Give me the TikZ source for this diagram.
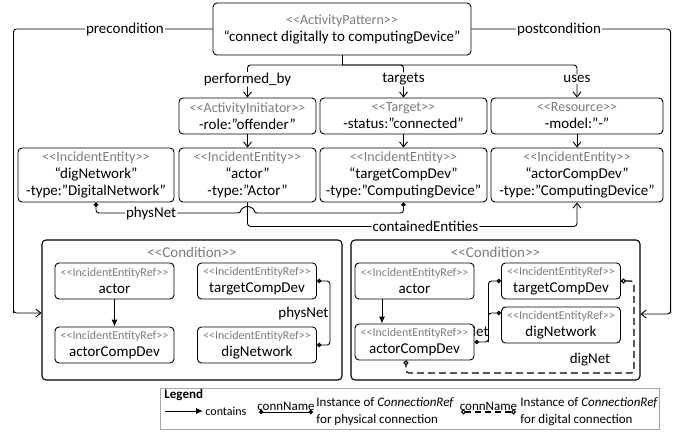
\documentclass[tikz,border=0pt]{standalone}
\usepackage{fontspec}
\setmainfont{Carlito}
\usetikzlibrary{arrows.meta}
\definecolor{stgray}{RGB}{125,125,125}
\newcommand{\stereo}[1]{{\color{stgray}<\kern0pt<#1>\kern0pt>}}
\newcommand{\fs}[1]{\fontsize{#1}{#1}\selectfont}

\begin{document}
\begin{tikzpicture}[x=1pt,y=-1pt,line width=0.9pt,
    box/.style={draw, rounded corners=4pt, fill=white, align=center, inner sep=0pt,
        font=\fontsize{15}{17}\selectfont},
    refbox/.style={box, minimum width=119pt, minimum height=36pt},
    cond/.style={draw, rounded corners=4pt, line width=1.1pt, minimum height=140pt},
    lbl/.style={fill=white, inner sep=1pt, font=\fs{15}},
    rel/.style={-{Straight Barb[length=5pt,width=8pt]}, rounded corners=3pt},
    contain/.style={-{Latex[length=7pt,width=6pt]}},
    phys/.style={{Circle[length=4.5pt]}-{Circle[length=4.5pt]}, rounded corners=3pt},
    dot/.style={-{Circle[length=4.5pt]}, rounded corners=3pt},
    dig/.style={{Circle[open,length=5pt]}-{Circle[open,length=5pt]}, line width=1.1pt,
        dash pattern=on 7pt off 4pt, rounded corners=3pt}]
    \useasboundingbox (0,0) rectangle (686,432);

    % activity pattern and its parts
    \node[box, minimum width=258pt, minimum height=52pt] (pat) at (342,29)
        {{\fs{14}\stereo{ActivityPattern}}\\“connect digitally to computingDevice”};
    \node[box, minimum width=137pt, minimum height=36pt] (ai) at (247.5,116)
        {{\fs{14}\stereo{ActivityInitiator}}\\-role:”offender”};
    \node[box, minimum width=167pt, minimum height=36pt] (tg) at (403.5,116)
        {{\fs{14}\stereo{Target}}\\-status:”connected”};
    \node[box, minimum width=172pt, minimum height=36pt] (rs) at (577,116)
        {{\fs{14}\stereo{Resource}}\\-model:”-”};
    \node[box, minimum width=156pt, minimum height=54pt] (dn) at (96,175)
        {{\fs{14}\stereo{IncidentEntity}}\\“digNetwork”\\-type:”DigitalNetwork”};
    \node[box, minimum width=137pt, minimum height=54pt] (ac) at (247.5,175)
        {{\fs{14}\stereo{IncidentEntity}}\\“actor”\\-type:”Actor”};
    \node[box, minimum width=167pt, minimum height=54pt] (tc) at (403.5,175)
        {{\fs{14}\stereo{IncidentEntity}}\\“targetCompDev”\\-type:”ComputingDevice”};
    \node[box, minimum width=172pt, minimum height=54pt] (acd) at (577,175)
        {{\fs{14}\stereo{IncidentEntity}}\\“actorCompDev”\\-type:”ComputingDevice”};

    \coordinate (br) at (342,65);
    \draw (pat.south) -- (br);
    \draw[rel] (br) -| (ai.north) node[lbl, pos=0.72] (lperf) {performed\_by};
    \draw[rel] (br) -| (tg.north) node[lbl, pos=0.72] (ltarg) {targets};
    \draw[rel] (br) -| (rs.north) node[lbl, pos=0.72] (luses) {uses};
    \draw[rel] (ai) -- (ac);
    \draw[rel] (tg) -- (tc);
    \draw[rel] (rs) -- (acd);

    \draw[rel] (ac.south) -- ++(0,24) -| (acd.south)
        node[lbl, pos=0.27] (lcont) {containedEntities};
    \draw[phys] (dn.south) |- (241,213) node[lbl, pos=0.69] (lpn) {physNet}
        arc[start angle=180, end angle=0, radius=6.5pt] -| (tc.south);

    % conditions
    \node[cond, minimum width=300pt] (lc) at (192,310) {};
    \node[cond, minimum width=289pt] (rc) at (495.5,310) {};
    \node[font=\fs{15}] (lct) at (192,252) {\stereo{Condition}};
    \node[font=\fs{15}] (rct) at (495.5,252) {\stereo{Condition}};

    \draw[rel] (pat.west) -| ([xshift=-28pt]lc.west)
        node[lbl, pos=0.22] (lpre) {precondition} |- ([yshift=-3pt]lc.west);
    \draw[rel] (pat.east) -| ([xshift=30pt]rc.east)
        node[lbl, pos=0.22] (lpost) {postcondition} |- ([yshift=-4pt]rc.east);

    % left condition
    \node[refbox] (la) at (114.5,281) {{\fs{12}\stereo{IncidentEntityRef}}\\actor};
    \node[refbox] (lacd) at (114.5,345) {{\fs{12}\stereo{IncidentEntityRef}}\\actorCompDev};
    \node[refbox] (lt) at (257,281) {{\fs{12}\stereo{IncidentEntityRef}}\\targetCompDev};
    \node[refbox] (ld) at (257,345) {{\fs{12}\stereo{IncidentEntityRef}}\\digNetwork};
    \draw[contain] (la) -- (lacd);
    \draw[phys] (lt.east) -- ++(13,0) |- (ld.east)
        node[pos=0.25, anchor=east, inner sep=1pt, font=\fs{15}] (lpn2) {physNet};

    % right condition (its physNet label lies half under actorCompDev)
    \node[anchor=east, inner sep=1pt, font=\fs{15}] (rpn) at (490,332) {physNet};
    \node[refbox] (ra) at (414.5,281) {{\fs{12}\stereo{IncidentEntityRef}}\\actor};
    \node[refbox] (racd) at (414.5,342) {{\fs{12}\stereo{IncidentEntityRef}}\\actorCompDev};
    \node[refbox] (rt) at (561,281) {{\fs{12}\stereo{IncidentEntityRef}}\\targetCompDev};
    \node[refbox] (rd) at (561,325) {{\fs{12}\stereo{IncidentEntityRef}}\\digNetwork};
    \draw[contain] ([xshift=-32.5pt]ra.south) -- ([xshift=-32.5pt]racd.north);
    \draw[phys] (racd.east) -- ++(14,0) |- (rt.west);
    \draw[dot] ([xshift=14pt]racd.east) |- ([yshift=12pt]rd.west);
    \coordinate (dgc) at (634,373);
    \draw[dig] (rt.east) -| (dgc) -| ([xshift=-8.5pt]racd.south);
    \node[font=\fs{15}] (ldig) at (590,360) {digNet};

    % legend
    \node[draw=black!35, line width=0.8pt, minimum width=499pt, minimum height=41pt] (leg) at (409.5,408.5) {};
    \node[anchor=west, inner sep=0pt, font=\fs{13}\bfseries] (legt) at (164,395) {Legend};
    \coordinate (c1) at (165,411);
    \coordinate (c2) at (203,411);
    \draw[contain] (c1) -- (c2) node[right, inner sep=2pt, font=\fs{12}] (lc1) {contains};
    \coordinate (p1) at (259,412);
    \coordinate (p2) at (313,412);
    \draw[phys] (p1) -- (p2) node[midway, above, inner sep=1pt, font=\fs{13}] (lc2) {connName};
    \node[anchor=west, align=left, inner sep=0pt, font=\fontsize{13}{17}\selectfont] (lt2) at (316,411.5)
        {Instance of \textit{ConnectionRef}\\for physical connection};
    \coordinate (d1) at (461,412);
    \coordinate (d2) at (516,412);
    \draw[dig, dash pattern=on 6pt off 4pt] (d1) -- (d2) node[midway, above, inner sep=1pt, font=\fs{13}] (lc3) {connName};
    \node[anchor=west, align=left, inner sep=0pt, font=\fontsize{13}{17}\selectfont] (lt3) at (520,411.5)
        {Instance of \textit{ConnectionRef}\\for digital connection};
\end{tikzpicture}
\end{document}
